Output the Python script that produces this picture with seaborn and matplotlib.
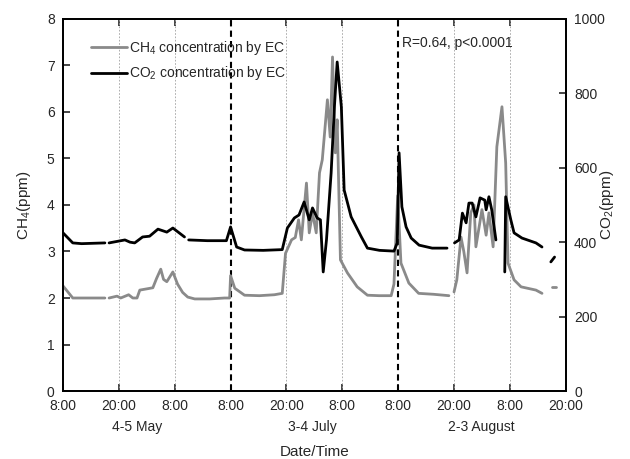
import numpy as np
import pandas as pd
import matplotlib
matplotlib.use("Agg")
import matplotlib.pyplot as plt
import seaborn as sns

nan = np.nan

# x axis is three field campaigns laid end to end, in hours from 8:00 on day 1
tick_hours = [0, 12, 24, 36, 48, 60, 72, 84, 96, 108]
tick_labels = ["8:00", "20:00", "8:00", "8:00", "20:00", "8:00", "8:00", "20:00", "8:00", "20:00"]
period_labels = ["4-5 May", "3-4 July", "2-3 August"]
period_centers = [15.9, 53.6, 89.8]
campaign_breaks = [36, 72]

# CH4 (ppm), NaN marks a gap in the record
ch4_hours = [0, 2.1, 3.6, 5.8, 9.0, nan,
             9.9, 11.6, 12.4, 14.1, 15.0, 15.9, 16.5, 18.2, 19.3, 20.1, 21.0, 21.6,
             22.3, 23.6, 24.6, 25.7, 26.8, 28.3, 31.5, 34.7, 35.8,
             36.0, 36.9, 39.0, 42.2, 45.4, 47.1, 47.8, 49.1, 49.9, 50.6, 51.2, 52.3,
             52.9, 53.6, 54.4, 55.1, 55.7, 56.8, 57.4, 57.9, 58.5, 58.9, 59.6, 61.1,
             63.2, 65.4, 67.9, 70.5, 71.1, 71.9, 72.6, 74.3, 76.4, 79.6, 82.9, nan,
             84.0, 84.6, 85.5, 86.1, 86.8, 87.6, 88.3, 88.7, 90.0, 90.9, 91.5, 92.4,
             93.2, 94.3, 95.1, 95.6, 96.9, 98.4, 101.6, 102.9, nan,
             105.0, 105.9]
ch4_ppm = [2.26, 2.0, 2.0, 2.0, 2.0, nan,
           2.0, 2.04, 2.0, 2.07, 2.0, 2.0, 2.17, 2.2, 2.22, 2.42, 2.62, 2.4,
           2.35, 2.56, 2.3, 2.12, 2.02, 1.98, 1.98, 2.0, 2.0,
           2.48, 2.21, 2.06, 2.05, 2.07, 2.1, 2.96, 3.25, 3.3, 3.68, 3.25, 4.47,
           3.4, 3.83, 3.4, 4.69, 4.97, 6.26, 5.46, 7.18, 5.12, 5.83, 2.82, 2.54,
           2.24, 2.06, 2.05, 2.05, 2.3, 4.2, 2.75, 2.32, 2.1, 2.08, 2.05, nan,
           2.13, 2.39, 3.31, 3.0, 2.54, 3.83, 4.0, 3.1, 3.9, 3.35, 3.83, 3.1,
           5.25, 6.11, 4.9, 2.75, 2.39, 2.24, 2.17, 2.1, nan,
           2.24, 2.24]

# CO2 (ppm)
co2_hours = [0, 2.1, 4.0, 9.0, nan,
             9.9, 13.3, 14.4, 15.4, 17.1, 18.6, 20.4, 22.3, 23.6, 26.1, nan,
             27.0, 31.0, 35.1, 36.0, 37.3, 39.0, 43.0, 47.1, 48.2, 49.7, 50.7, 51.8,
             52.9, 53.6, 54.6, 55.3, 55.9, 56.6, 57.6, 58.3, 58.9, 59.8, 60.4, 61.9,
             64.1, 65.4, 68.0, 71.1, 71.8, 72.2, 72.8, 73.7, 74.8, 76.5, 79.3, 82.5, nan,
             84.1, 85.1, 85.8, 86.6, 87.2, 87.9, 88.7, 89.6, 90.6, 90.9, 91.5, 92.1,
             93.0, nan,
             94.9, 95.1, 96.2, 96.9, 98.6, 101.6, 102.9, nan,
             104.8, 105.6]
co2_ppm = [425, 398, 396, 398, nan,
           398, 406, 400, 398, 414, 416, 435, 427, 438, 414, nan,
           406, 404, 404, 441, 387, 379, 378, 380, 438, 465, 473, 508,
           460, 492, 465, 460, 320, 406, 586, 763, 884, 763, 540, 468,
           414, 384, 378, 376, 398, 640, 495, 441, 411, 392, 384, 384, nan,
           398, 406, 478, 452, 505, 505, 468, 519, 513, 487, 522, 487,
           406, nan,
           320, 522, 460, 425, 411, 398, 387, nan,
           347, 360]


def to_frame(hours, values):
    df = pd.DataFrame({"hour": hours, "value": values})
    df["seg"] = df["value"].isna().cumsum()
    return df.dropna()


ch4 = to_frame(ch4_hours, ch4_ppm)
co2 = to_frame(co2_hours, co2_ppm)

sns.set_style("ticks")
plt.rcParams["font.family"] = ["Liberation Sans", "DejaVu Sans"]
plt.rcParams["mathtext.fontset"] = "custom"
plt.rcParams["mathtext.rm"] = "Liberation Sans"
plt.rcParams["mathtext.default"] = "regular"

fig = plt.figure(figsize=(6.3, 4.59), dpi=100)
ax = fig.add_axes([0.1, 0.148, 0.798, 0.811])
ax2 = ax.twinx()

for h in tick_hours[1:-1]:
    if h in campaign_breaks:
        ax.axvline(h, color="black", lw=1.5, ls=(0, (3, 2)), zorder=1)
    else:
        ax.axvline(h, color="#a0a0a0", lw=0.6, ls=(0, (2, 2)), zorder=1)

sns.lineplot(data=ch4, x="hour", y="value", units="seg", estimator=None,
             sort=False, color="#8a8a8a", lw=2.0, ax=ax)
sns.lineplot(data=co2, x="hour", y="value", units="seg", estimator=None,
             sort=False, color="black", lw=2.0, ax=ax2)

ax.set_xlim(0, 108)
ax.set_ylim(0, 8)
ax2.set_ylim(0, 1000)
ax.set_xticks(tick_hours)
ax.set_xticklabels(tick_labels)
ax.set_yticks(range(0, 9))
ax2.set_yticks(range(0, 1001, 200))

for a in (ax, ax2):
    for sp in a.spines.values():
        sp.set_visible(True)
        sp.set_linewidth(1.3)
        sp.set_color("black")
ax.tick_params(axis="x", direction="in", length=5, width=1.2, top=True,
               labelsize=10, pad=6)
ax.tick_params(axis="y", direction="in", length=5, width=1.2, labelsize=10, pad=6)
ax2.tick_params(axis="y", direction="in", length=5, width=1.2, labelsize=10, pad=6)

ax.set_xlabel("Date/Time", fontsize=11)
ax.xaxis.set_label_coords(0.5, -0.145)
ax.set_ylabel("CH$_4$(ppm)", fontsize=11)
ax.yaxis.set_label_coords(-0.06, 0.5)
ax2.set_ylabel("CO$_2$(ppm)", fontsize=11)
ax2.yaxis.set_label_coords(1.065, 0.5)

for c, lab in zip(period_centers, period_labels):
    ax.text(c, -0.097, lab, transform=ax.get_xaxis_transform(),
            ha="center", va="center", fontsize=10)

ax2.text(72.9, 0.935, "R=0.64, p<0.0001", transform=ax.get_xaxis_transform(),
         ha="left", va="center", fontsize=10)

ax2.legend(handles=[ax.lines[-1], ax2.lines[-1]],
           labels=["CH$_4$ concentration by EC", "CO$_2$ concentration by EC"],
           loc="upper left", bbox_to_anchor=(0.03, 0.98), frameon=False,
           fontsize=10, handlelength=2.6, handletextpad=0.2, labelspacing=0.55)

fig.savefig("out.png", dpi=100)
